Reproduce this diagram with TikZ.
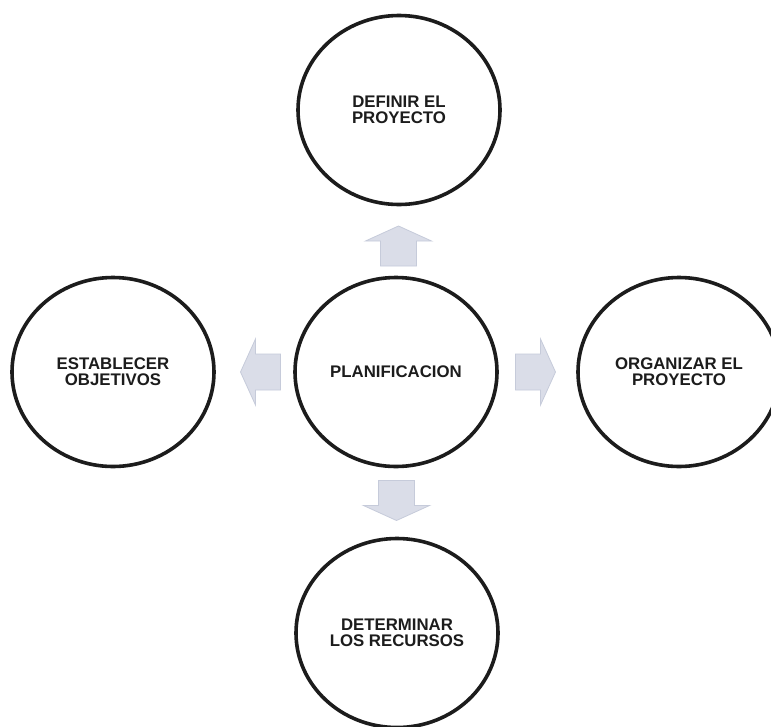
\documentclass[tikz,border=0pt]{standalone}
\usepackage{fontspec}
\setmainfont{Liberation Sans}
\usetikzlibrary{shapes.geometric,calc}
\definecolor{ringc}{RGB}{28,28,28}
\definecolor{arrowc}{RGB}{218,221,232}
\definecolor{arrowe}{RGB}{198,203,218}
\tikzset{
  ring/.style={ellipse, draw=ringc, line width=3.6pt, minimum width=202pt,
    minimum height=189pt, inner sep=0pt, align=center,
    font=\fontsize{16.8}{16}\selectfont\bfseries, text=ringc},
  blockarrow/.pic={\filldraw[fill=arrowc, draw=arrowe, line width=0.8pt]
    (-20,-18) -- (5,-18) -- (5,-33) -- (20,0) -- (5,33) -- (5,18) -- (-20,18) -- cycle;}
}
\begin{document}
\begin{tikzpicture}[x=1pt,y=-1pt]
\clip (0,0) rectangle (771,726);
\fill[white] (0,0) rectangle (771,726);
\node[ring] (plan) at (396,372) {PLANIFICACION};
\node[ring] (def) at (399,110) {DEFINIR EL\\PROYECTO};
\node[ring] (obj) at (113,372) {ESTABLECER\\OBJETIVOS};
\node[ring] (org) at (679,372) {ORGANIZAR EL\\PROYECTO};
\node[ring] (rec) at (397,633) {DETERMINAR\\LOS RECURSOS};
\coordinate (aup) at ($($(plan.north)!0.5!(def.south)$)+(1,5)$);
\coordinate (adn) at ($($(plan.south)!0.5!(rec.north)$)+(0,-2)$);
\coordinate (alt) at ($($(plan.west)!0.5!(obj.east)$)+(6,0)$);
\coordinate (art) at ($($(plan.east)!0.5!(org.west)$)+(-2,0)$);
\pic[rotate=90] at (aup) {blockarrow};
\pic[rotate=-90] at (adn) {blockarrow};
\pic[rotate=180] at (alt) {blockarrow};
\pic at (art) {blockarrow};
\end{tikzpicture}
\end{document}
